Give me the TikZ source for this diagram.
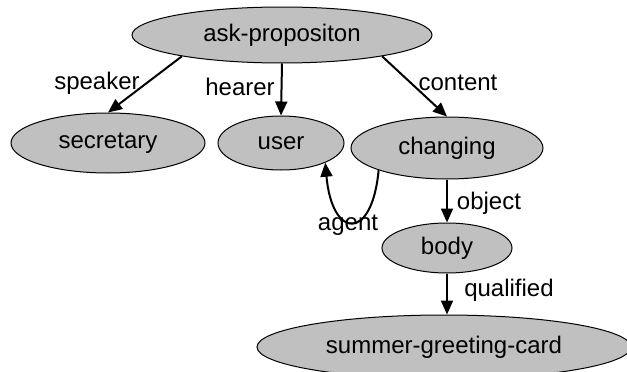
\documentclass[tikz,border=0pt]{standalone}
\usepackage{fontspec}
\setmainfont{Liberation Sans}
\usetikzlibrary{shapes.geometric, arrows.meta, positioning}
\definecolor{conceptgray}{RGB}{192,192,192}
\tikzstyle{concept} = [ellipse, draw=black, line width=1pt, fill=conceptgray, inner sep=0pt, font=\fontsize{24}{28}\selectfont]
\tikzstyle{rel} = [inner sep=0pt, font=\fontsize{24}{28}\selectfont]
\tikzstyle{arrow} = [line width=2pt,-{Triangle[length=14pt,width=12pt]}]

\begin{document}
\begin{tikzpicture}[x=1pt, y=-1pt]
		\useasboundingbox (0,0) rectangle (627,372);
		\node (Ask) [concept, minimum width=300pt, minimum height=56pt] at (282,35) {ask-propositon};
		\node (Secretary) [concept, minimum width=194pt, minimum height=60pt] at (108,143) {secretary};
		\node (User) [concept, minimum width=126pt, minimum height=54pt] at (281,143) {user};
		\node (Changing) [concept, minimum width=192pt, minimum height=62pt] at (447,148) {changing};
		\node (Body) [concept, minimum width=130pt, minimum height=50pt] at (447,248) {body};
		\node (Card) [concept, minimum width=374pt, minimum height=64pt] at (444,347) {summer-greeting-card};
		\node (Speaker) [rel] at (97,83) {speaker};
		\node (Hearer) [rel] at (240,87) {hearer};
		\node (Content) [rel] at (458,83) {content};
		\node (Object) [rel] at (489,203) {object};
		\node (Agent) [rel] at (348,225) {agent};
		\node (Qualified) [rel] at (509,290) {qualified};
		\draw [arrow] (Ask.192) -- (Secretary.north);
		\draw [arrow] (Ask.south) -- (User.north);
		\draw [arrow] (Ask.-12) -- (Changing.north);
		\draw [arrow] (Changing.198) .. controls (372,242) and (332,239) .. (User.-24);
		\draw [arrow] (Changing.south) -- (Body.north);
		\draw [arrow] (Body.south) -- (Body.south |- Card.north);
\end{tikzpicture}
\end{document}
